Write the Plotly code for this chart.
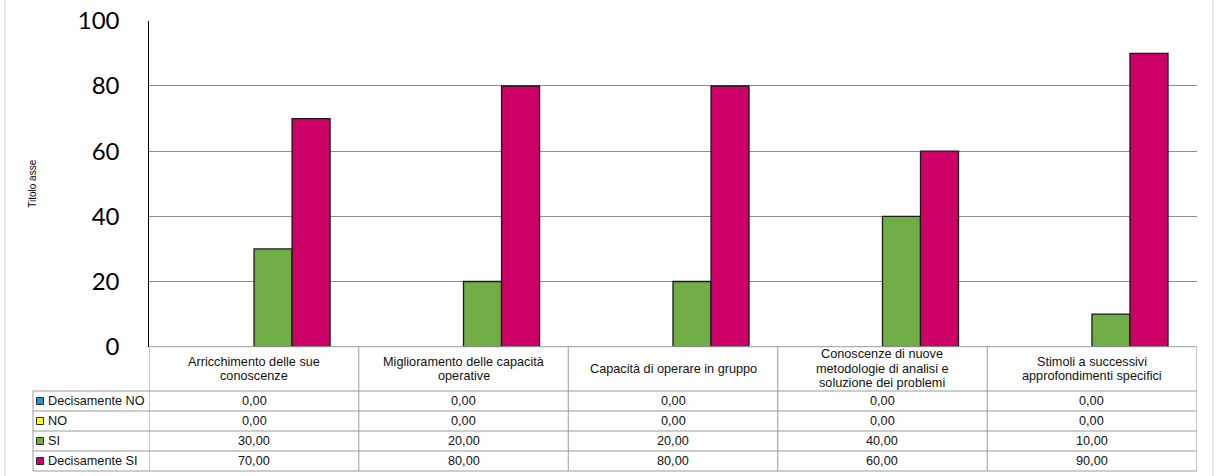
import plotly.graph_objects as go

# ---------------- data ----------------
categories = [
    "Arricchimento delle sue<br>conoscenze",
    "Miglioramento delle capacità<br>operative",
    "Capacità di operare in gruppo",
    "Conoscenze di nuove<br>metodologie di analisi e<br>soluzione dei problemi",
    "Stimoli a successivi<br>approfondimenti specifici",
]
series_names = ["Decisamente NO", "NO", "SI", "Decisamente SI"]
decisamente_no = [0, 0, 0, 0, 0]
no_vals = [0, 0, 0, 0, 0]
si_vals = [30, 20, 20, 40, 10]
decisamente_si = [70, 80, 80, 60, 90]
y_ticks = [0, 20, 40, 60, 80, 100]
axis_title = "Titolo asse"

series_values = [decisamente_no, no_vals, si_vals, decisamente_si]
series_colors = ["#1F96D3", "#FFFF00", "#70AD47", "#CC0066"]

# ---------------- geometry (pixels) ----------------
W, H = 1216, 476
PL, PR, PT, PB = 149.3, 1196.7, 20.8, 346.7
HEADER_B = 391.0
ROW_LINES = [391.0, 411.0, 431.0, 451.0, 471.0]
LEG_L = 33.0
LINE_STEP = 14.5


def px(x):
    return x / W


def py(y):
    return 1 - y / H


fig = go.Figure()
x_idx = list(range(len(categories)))
for name, vals, col in zip(series_names, series_values, series_colors):
    fig.add_trace(go.Bar(
        x=x_idx, y=vals, name=name,
        marker=dict(color=col,
                    line=dict(color="#1a1a1a", width=[1.3 if v else 0 for v in vals])),
        showlegend=False,
    ))

shapes = []
line_col = "#9a9a9a"
shapes.append(dict(type="line", xref="paper", yref="paper",
                   x0=px(PL), x1=px(PR), y0=py(PB), y1=py(PB),
                   line=dict(color=line_col, width=1)))
for i in range(len(categories) + 1):
    xv = i - 0.5
    shapes.append(dict(type="line", xref="x", yref="paper",
                       x0=xv, x1=xv, y0=py(PB), y1=py(ROW_LINES[-1]),
                       line=dict(color=line_col, width=1)))
for yl in ROW_LINES:
    shapes.append(dict(type="line", xref="paper", yref="paper",
                       x0=px(LEG_L), x1=px(PR), y0=py(yl), y1=py(yl),
                       line=dict(color=line_col, width=1)))
shapes.append(dict(type="line", xref="paper", yref="paper",
                   x0=px(LEG_L), x1=px(LEG_L), y0=py(ROW_LINES[0]), y1=py(ROW_LINES[-1]),
                   line=dict(color=line_col, width=1)))
for xb in (5, 1213):
    shapes.append(dict(type="line", xref="paper", yref="paper",
                       x0=px(xb), x1=px(xb), y0=0, y1=1,
                       line=dict(color="#cfcfcf", width=1)))

annotations = []
font_tbl = dict(family="Liberation Sans, Arial, sans-serif", size=12.7, color="#111111")
header_c = (PB + HEADER_B) / 2
for i, cat in enumerate(categories):
    lines = cat.split("<br>")
    n = len(lines)
    for k, ln in enumerate(lines):
        yc = header_c + (k - (n - 1) / 2) * LINE_STEP
        annotations.append(dict(x=i, xref="x", y=py(yc), yref="paper",
                                text=ln, showarrow=False, xanchor="center", yanchor="middle",
                                font=font_tbl))
for r, (name, vals, col) in enumerate(zip(series_names, series_values, series_colors)):
    yc = (ROW_LINES[r] + ROW_LINES[r + 1]) / 2
    for i, v in enumerate(vals):
        annotations.append(dict(x=i, xref="x", y=py(yc), yref="paper",
                                text=f"{v:.2f}".replace(".", ","), showarrow=False,
                                xanchor="center", yanchor="middle", font=font_tbl))
    annotations.append(dict(x=px(45.5), xref="paper", y=py(yc), yref="paper",
                            text=name, showarrow=False, xanchor="left", yanchor="middle",
                            font=font_tbl))
    shapes.append(dict(type="rect", xref="paper", yref="paper",
                       x0=px(36.5), x1=px(43.5), y0=py(yc - 3.5), y1=py(yc + 3.5),
                       fillcolor=col, line=dict(color="#262626", width=1)))

annotations.append(dict(x=px(33), xref="paper", y=py((PT + PB) / 2), yref="paper",
                        text=axis_title, textangle=-90, showarrow=False,
                        xanchor="center", yanchor="middle",
                        font=dict(family="Liberation Sans, Arial, sans-serif", size=10, color="#000")))

fig.update_layout(
    width=W, height=H,
    margin=dict(l=0, r=0, t=0, b=0, autoexpand=False),
    paper_bgcolor="white", plot_bgcolor="white",
    barmode="group", bargap=0.274, bargroupgap=0,
    shapes=shapes, annotations=annotations,
    xaxis=dict(domain=[px(PL), px(PR)], range=[-0.5, len(categories) - 0.5],
               showticklabels=False, showgrid=False, zeroline=False, showline=False,
               ticks="", automargin=False),
    yaxis=dict(domain=[py(PB), py(PT)], range=[0, 100], tickvals=y_ticks,
               showgrid=True, gridcolor="#8e8e8e", gridwidth=1,
               zeroline=False, showline=True, linecolor="#000", linewidth=1,
               ticks="", ticklabelstandoff=24, automargin=False,
               tickfont=dict(family="Lato, Carlito, Calibri, sans-serif", size=24, color="#000")),
)

fig.write_html("out.html",
               config={"displayModeBar": False},
               post_script="document.body.style.margin='0';document.body.style.overflow='hidden';")
